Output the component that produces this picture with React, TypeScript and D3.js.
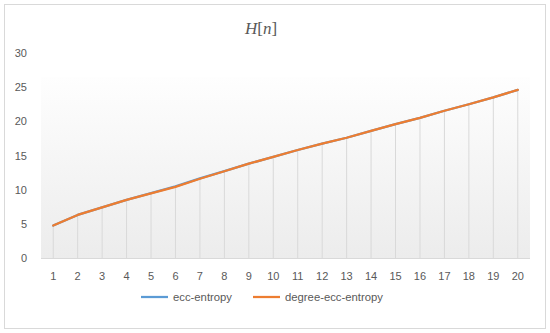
import React from "react";
import * as d3 from "d3";

const categories = d3.range(1, 21).map(String);
const eccEntropy = [4.75, 6.3, 7.4, 8.5, 9.5, 10.48, 11.65, 12.72, 13.8, 14.8, 15.8, 16.75, 17.6, 18.6, 19.6, 20.5, 21.55, 22.5, 23.5, 24.6];
const degreeEccEntropy = [4.75, 6.3, 7.4, 8.5, 9.45, 10.4, 11.6, 12.7, 13.8, 14.8, 15.8, 16.75, 17.6, 18.6, 19.6, 20.5, 21.55, 22.5, 23.5, 24.6];
const yTicks = [0, 5, 10, 15, 20, 25, 30];
const seriesNames = ["ecc-entropy", "degree-ecc-entropy"];
const seriesColors = ["#5B9BD5", "#ED7D31"];

const W = 550, H = 333;
const plot = { left: 41, right: 530, top: 53, bottom: 258 };
const FONT = "'Liberation Sans', Arial, sans-serif";
const TXT = "#595959";

export default function App() {
  const x = d3.scaleBand<string>().domain(categories).range([plot.left, plot.right]);
  const y = d3.scaleLinear().domain([0, 30]).range([plot.bottom, plot.top]);
  const cx = (c: string) => (x(c) as number) + x.bandwidth() / 2;
  const line = d3.line<number>().x((_, i) => cx(categories[i])).y((d) => y(d));
  const series = [eccEntropy, degreeEccEntropy];
  const maxVals = categories.map((_, i) => Math.max(eccEntropy[i], degreeEccEntropy[i]));

  return (
    <svg width={W} height={H} style={{ position: "absolute", left: 0, top: 0 }}>
      <defs>
        <linearGradient id="bg" x1="0" y1="0" x2="0" y2="1">
          <stop offset="0" stopColor="#fefefe" />
          <stop offset="1" stopColor="#ececec" />
        </linearGradient>
      </defs>
      <rect x={0} y={0} width={W} height={H} fill="#fff" />
      <rect x={4.5} y={4.5} width={541} height={324} fill="#fff" stroke="#d9d9d9" strokeWidth={1} />
      <rect x={plot.left} y={77} width={plot.right - plot.left} height={plot.bottom - 77} fill="url(#bg)" />
      <text x={261} y={34} textAnchor="middle" fontFamily="'Liberation Serif', 'DejaVu Serif', serif" fontSize={17} fill={TXT}>
        <tspan fontStyle="italic">H</tspan>
        <tspan>[</tspan>
        <tspan fontStyle="italic">n</tspan>
        <tspan>]</tspan>
      </text>
      {categories.map((c, i) => (
        <line key={"d" + c} x1={cx(c)} x2={cx(c)} y1={y(maxVals[i])} y2={plot.bottom} stroke="#d9d9d9" strokeWidth={1} />
      ))}
      <line x1={plot.left} x2={plot.right} y1={plot.bottom + 0.5} y2={plot.bottom + 0.5} stroke="#d9d9d9" strokeWidth={1} />
      {yTicks.map((t) => (
        <text key={"y" + t} x={27} y={y(t) + 4} textAnchor="end" fontFamily={FONT} fontSize={11} fill={TXT}>
          {t}
        </text>
      ))}
      {categories.map((c) => (
        <text key={"x" + c} x={cx(c)} y={280} textAnchor="middle" fontFamily={FONT} fontSize={11} fill={TXT}>
          {c}
        </text>
      ))}
      {series.map((s, k) => (
        <path key={"s" + k} d={line(s) || ""} fill="none" stroke={seriesColors[k]} strokeWidth={2.25} strokeLinejoin="round" strokeLinecap="round" />
      ))}
      {seriesNames.map((n, k) => {
        const lx = k === 0 ? 141 : 253;
        return (
          <g key={"l" + k}>
            <line x1={lx} x2={lx + 27} y1={297} y2={297} stroke={seriesColors[k]} strokeWidth={2.25} />
            <text x={lx + 32} y={301} fontFamily={FONT} fontSize={11.3} fill={TXT}>
              {n}
            </text>
          </g>
        );
      })}
    </svg>
  );
}
